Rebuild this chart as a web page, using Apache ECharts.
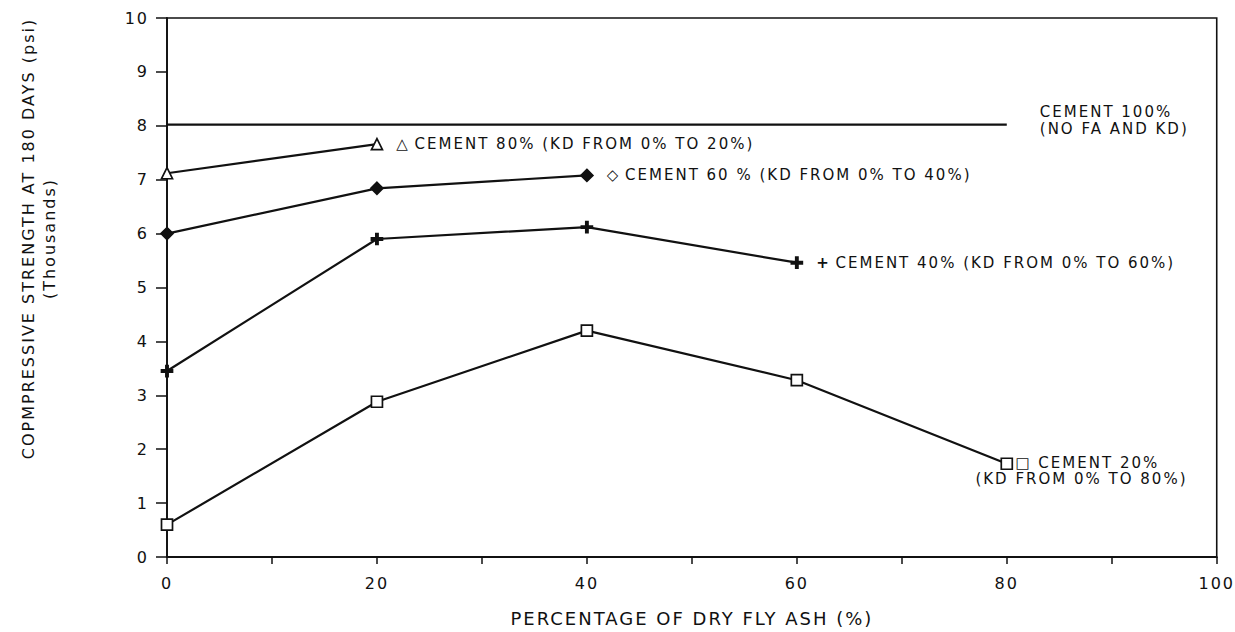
<!DOCTYPE html>
<html>
<head>
<meta charset="utf-8">
<script src="https://cdn.jsdelivr.net/npm/echarts@6/dist/echarts.min.js"></script>
<style>
  html, body { margin: 0; padding: 0; background: #fff; }
  #chart { width: 1235px; height: 632px; }
  /* the original plotter lettering is very wide, spread the glyphs a bit */
  #chart text { letter-spacing: 2px; }
</style>
</head>
<body>
<div id="chart"></div>
<script>
// fly ash percentage (x) and strength in thousands of psi (y)
const flyAsh = [0, 20, 40, 60, 80]
const cement100 = [8.02, 8.02, 8.02, 8.02, 8.02]
const cement80 = [7.12, 7.66]
const cement60 = [6.0, 6.84, 7.08]
const cement40 = [3.45, 5.9, 6.12, 5.46]
const cement20 = [0.6, 2.88, 4.2, 3.28, 1.73]

const label100 = 'CEMENT 100%\n(NO FA AND KD)'
const label80 = '{m|△} CEMENT 80% (KD FROM 0% TO 20%)'
const label60 = '{m|◇} CEMENT 60 % (KD FROM 0% TO 40%)'
const label40 = '{m|+} CEMENT 40% (KD FROM 0% TO 60%)'
const label20 = '{a|□ CEMENT 20%}\n(KD FROM 0% TO 80%)'

const font = 'DejaVu Sans'
const ink = '#111'

const chart = echarts.init(document.getElementById('chart'), null, { renderer: 'svg' })

function pts(ys, lastLabel) {
  return ys.map((y, i) => {
    const p = { value: [flyAsh[i], y] }
    if (i === ys.length - 1 && lastLabel) p.label = Object.assign({ show: true }, lastLabel)
    return p
  })
}

const labelBase = {
  color: ink,
  fontFamily: font,
  fontSize: 15,
  position: 'right',
  distance: 13,
  rich: {
    m: { fontFamily: font, fontSize: 15, color: ink, fontWeight: 'bold' },
    a: { fontFamily: font, fontSize: 15, color: ink, padding: [0, 0, 0, 40] },
  },
}

function line(name, ys, symbol, fill, size, lbl) {
  return {
    name,
    type: 'line',
    data: pts(ys, lbl),
    symbol,
    symbolSize: size,
    showSymbol: true,
    lineStyle: { color: ink, width: 2.2 },
    itemStyle: { color: fill, borderColor: ink, borderWidth: 1.7 },
    label: { show: false },
    emphasis: { disabled: true },
    animation: false,
    z: 3,
  }
}

chart.setOption({
  backgroundColor: '#fff',
  grid: { left: 167, right: 18, top: 18, bottom: 72, show: true, borderColor: ink, borderWidth: 1.6 },
  xAxis: {
    type: 'value',
    min: 0,
    max: 100,
    interval: 10,
    name: 'PERCENTAGE OF DRY FLY ASH (%)',
    nameLocation: 'middle',
    nameGap: 52,
    nameTextStyle: { color: ink, fontFamily: font, fontSize: 18 },
    axisLine: { lineStyle: { color: ink, width: 1.8 } },
    axisTick: { show: true, length: 7, lineStyle: { color: ink, width: 1.5 } },
    axisLabel: {
      color: ink, fontFamily: font, fontSize: 16, margin: 18,
      formatter: v => (v % 20 === 0 ? String(v) : ''),
    },
    splitLine: { show: false },
  },
  yAxis: {
    type: 'value',
    min: 0,
    max: 10,
    interval: 1,
    name: 'COPMPRESSIVE STRENGTH AT 180 DAYS (psi)\n(Thousands)',
    nameLocation: 'middle',
    nameGap: 107,
    nameRotate: 90,
    nameTextStyle: {
      color: ink, fontFamily: font, fontSize: 16, lineHeight: 21, align: 'center',
      padding: [0, 0, 0, 98],
    },
    axisLine: { show: true, lineStyle: { color: ink, width: 1.8 } },
    axisTick: { show: true, length: 11, lineStyle: { color: ink, width: 1.5 } },
    axisLabel: { color: ink, fontFamily: font, fontSize: 16, margin: 18 },
    splitLine: { show: false },
  },
  series: [
    line('CEMENT 100%', cement100, 'circle', ink, 0,
      Object.assign({}, labelBase, { formatter: label100, distance: 33, offset: [0, -4], lineHeight: 17 })),
    line('CEMENT 80%', cement80, 'triangle', '#fff', 11,
      Object.assign({}, labelBase, { formatter: label80 })),
    line('CEMENT 60%', cement60, 'diamond', ink, 12,
      Object.assign({}, labelBase, { formatter: label60 })),
    line('CEMENT 40%', cement40, 'path://M4,0H6V4H10V6H6V10H4V6H0V4H4Z', ink, 11,
      Object.assign({}, labelBase, { formatter: label40 })),
    line('CEMENT 20%', cement20, 'rect', '#fff', 11,
      Object.assign({}, labelBase, {
        formatter: label20, position: [-25, 14], align: 'left', verticalAlign: 'middle', lineHeight: 16,
      })),
  ],
})
</script>
</body>
</html>
